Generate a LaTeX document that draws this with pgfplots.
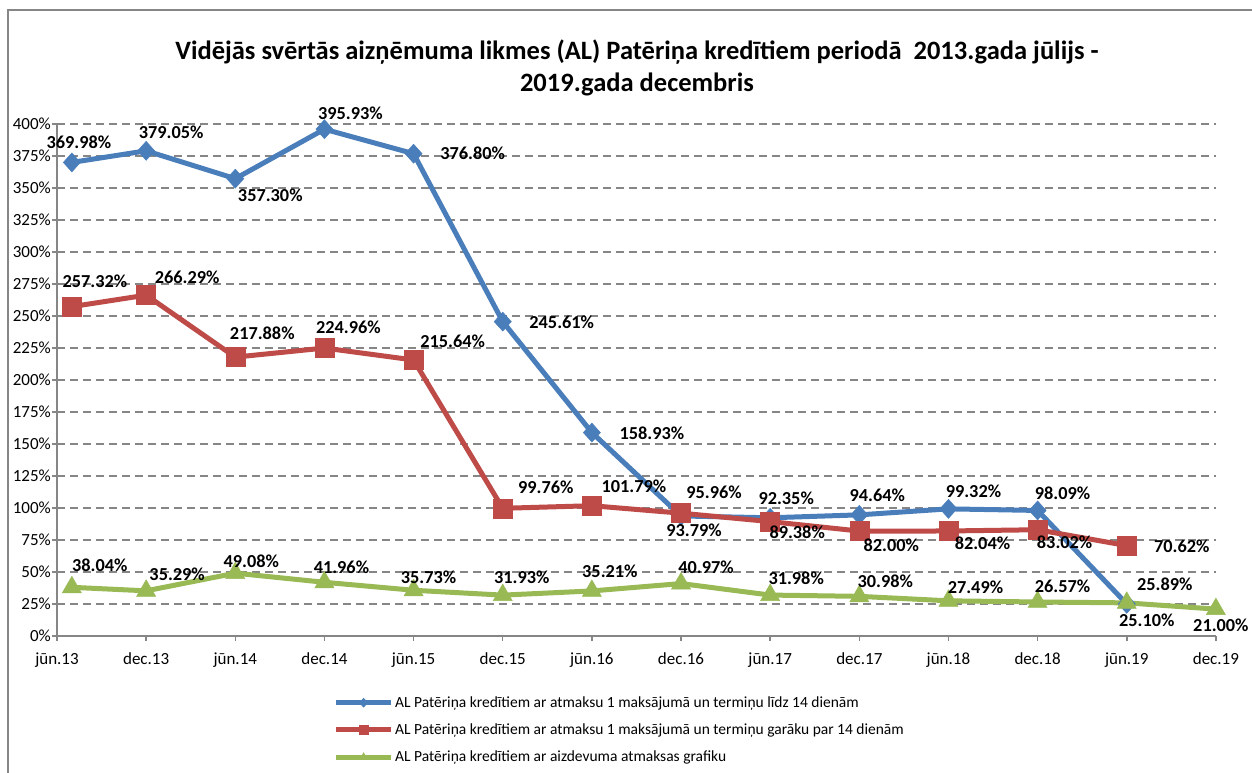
\documentclass[border=0pt]{standalone}
\usepackage{fontspec}
\setmainfont{Carlito}
\usepackage{pgfplots}
\pgfplotsset{compat=1.18}
\usepackage{pgfplotstable}

\definecolor{cblue}{RGB}{74,126,187}
\definecolor{cred}{RGB}{190,75,72}
\definecolor{cgreen}{RGB}{152,185,84}
\definecolor{cgrid}{RGB}{134,134,134}

% x = months since jun.13 ; dx, dy = label offset (right, up)
\pgfplotstableread{
x y dx dy
1 369.98 7 20
6 379.05 25 19
12 357.30 35 -17
18 395.93 26 16
24 376.80 59 0
30 245.61 59 -1
36 158.93 60 -1
42 93.79 13 -14
48 92.35 16 20
54 94.64 18 20
60 99.32 25 18
66 98.09 25 17
72 25.10 20 -16
}\tblblue

\pgfplotstableread{
x y dx dy
1 257.32 23 25
6 266.29 41 18
12 217.88 27 24
18 224.96 24 21
24 215.64 39 19
30 99.76 43 21
36 101.79 42 19
42 95.96 33 21
48 89.38 27 -11
54 82.00 32 -14
60 82.04 34 -12
66 83.02 27 -13
72 70.62 55 -1
}\tblred

\pgfplotstableread{
x y dx dy
1 38.04 28 22
6 35.29 31 17
12 49.08 16 12
18 41.96 17 15
24 35.73 15 13
30 31.93 19 18
36 35.21 18 20
42 40.97 25 16
48 31.98 26 17
54 30.98 26 15
60 27.49 27 14
66 26.57 25 16
72 25.89 38 19
78 21.00 5 -16
}\tblgreen

\begin{document}
\begin{tikzpicture}
\begin{axis}[
  scale only axis, width=1159pt, height=512pt,
  at={(57pt,136pt)}, anchor=south west,
  xmin=0, xmax=78, ymin=0, ymax=400,
  xtick={0,6,...,78},
  xticklabels={jūn.13,dec.13,jūn.14,dec.14,jūn.15,dec.15,jūn.16,dec.16,jūn.17,dec.17,jūn.18,dec.18,jūn.19,dec.19},
  ytick={0,25,...,400},
  yticklabel={\pgfmathprintnumber[assume math mode=true]{\tick}\%},
  ymajorgrids,
  grid style={cgrid, line width=1.8pt, dash pattern=on 8pt off 5pt},
  axis x line*=bottom, axis y line*=left,
  axis line style={cgrid, line width=1.5pt, -},
  tick style={cgrid, line width=1.5pt},
  major tick length=5pt, tick align=outside,
  tick label style={font=\fontsize{17}{17}\selectfont, text=black},
  yticklabel style={inner sep=0pt, anchor=east, xshift=-1pt},
  xticklabel style={inner sep=0pt, anchor=base, yshift=-23pt},
  clip=false,
  nodes near coords={\pgfmathprintnumber[fixed,fixed zerofill,precision=2,assume math mode=true]{\pgfplotspointmeta}\%},
  point meta=y,
  visualization depends on={\thisrow{dx} \as \labdx},
  visualization depends on={\thisrow{dy} \as \labdy},
  every node near coord/.append style={anchor=center, xshift=\labdx pt, yshift=\labdy pt,
     font=\bfseries\fontsize{18.3}{18.3}\selectfont, text=black, inner sep=0pt},
  legend cell align=left,
  legend style={draw=none, fill=none, at={(0.2385,-0.115)}, anchor=north west,
     font=\fontsize{15.5}{15.5}\selectfont, row sep=12pt, inner sep=0pt,
     nodes={inner sep=1.5pt}},
  legend image code/.code={
     \draw[#1, mark=none] (0pt,0pt) -- (55pt,0pt);
     \path[#1, mark size=4.5pt] plot coordinates {(27.5pt,0pt)};
  },
]
\addplot[cblue, line width=5pt, mark=diamond*, mark size=9.5pt,
  mark options={cblue, line width=0.5pt, xscale=1.2}]
  table[x=x, y=y] {\tblblue};
\addlegendentry{AL Patēriņa kredītiem ar atmaksu 1 maksājumā un termiņu līdz 14 dienām}
\addplot[cred, line width=5pt, mark=square*, mark size=9.5pt,
  mark options={cred, line width=0.5pt}]
  table[x=x, y=y] {\tblred};
\addlegendentry{AL Patēriņa kredītiem ar atmaksu 1 maksājumā un termiņu garāku par 14 dienām}
\addplot[cgreen, line width=5pt, mark=triangle*, mark size=11pt,
  mark options={cgreen, line width=0.5pt}]
  table[x=x, y=y] {\tblgreen};
\addlegendentry{AL Patēriņa kredītiem ar aizdevuma atmaksas grafiku}
\end{axis}

\node[font=\bfseries\fontsize{26.5}{32}\selectfont, align=center] at (637pt,704pt)
  {Vidējās svērtās aizņēmuma likmes (AL) Patēriņa kredītiem periodā~ 2013.gada jūlijs -\\2019.gada decembris};

\draw[cgrid, line width=2pt] (8pt,-20pt) rectangle (1275pt,762pt);

\pgfresetboundingbox
\useasboundingbox (0,0) rectangle (1252pt,772pt);
\end{tikzpicture}
\end{document}
